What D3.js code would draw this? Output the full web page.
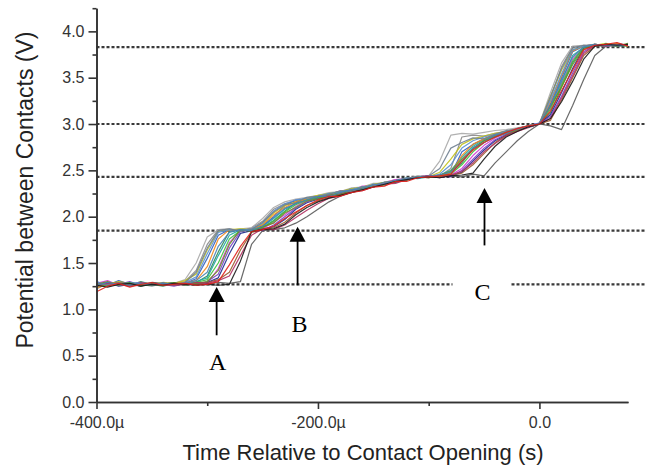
<!DOCTYPE html>
<html>
<head>
<meta charset="utf-8">
<script src="https://cdn.jsdelivr.net/npm/d3@7"></script>
<style>
body { margin: 0; background: #fff; }
</style>
</head>
<body>
<svg class="plotid" width="651" height="467"></svg>
<script>
// time axis, microseconds relative to contact opening
var times = [-400, -390, -380, -370, -360, -350, -340, -330, -320, -310,
             -300, -290, -280, -270, -260, -250, -240, -230, -220, -210,
             -200, -190, -180, -170, -160, -150, -140, -130, -120, -110,
             -100, -90, -80, -70, -60, -50, -40, -30, -20, -10,
             0, 10, 20, 30, 40, 50, 60, 70, 80];

// potential (V), one array per recorded opening
var run01 = [1.22, 1.28, 1.26, 1.29, 1.27, 1.25, 1.28, 1.27, 1.30, 1.42,
             1.70, 1.86, 1.87, 1.85, 1.88, 1.95, 2.08, 2.14, 2.17, 2.20,
             2.21, 2.25, 2.24, 2.28, 2.30, 2.32, 2.36, 2.37, 2.41, 2.42,
             2.43, 2.44, 2.52, 2.86, 2.88, 2.87, 2.90, 2.92, 2.94, 2.97,
             3.00, 3.28, 3.62, 3.83, 3.85, 3.84, 3.86, 3.85, 3.84];
var run02 = [1.27, 1.28, 1.26, 1.28, 1.27, 1.29, 1.27, 1.28, 1.32, 1.50,
             1.78, 1.86, 1.85, 1.87, 1.88, 1.98, 2.10, 2.16, 2.19, 2.21,
             2.23, 2.26, 2.27, 2.31, 2.32, 2.36, 2.36, 2.40, 2.41, 2.44,
             2.44, 2.60, 2.88, 2.90, 2.89, 2.91, 2.93, 2.94, 2.96, 2.98,
             3.00, 3.34, 3.66, 3.84, 3.85, 3.86, 3.84, 3.85, 3.86];
var run03 = [1.27, 1.26, 1.28, 1.27, 1.26, 1.29, 1.28, 1.26, 1.27, 1.28,
             1.27, 1.29, 1.28, 1.30, 1.70, 1.85, 1.86, 1.88, 1.93, 2.00,
             2.08, 2.16, 2.22, 2.26, 2.30, 2.33, 2.36, 2.38, 2.41, 2.43,
             2.44, 2.43, 2.44, 2.43, 2.46, 2.44, 2.58, 2.70, 2.82, 2.92,
             3.00, 2.98, 2.94, 3.20, 3.48, 3.74, 3.84, 3.86, 3.85];
var run04 = [1.30, 1.26, 1.31, 1.27, 1.25, 1.28, 1.27, 1.26, 1.28, 1.33,
             1.55, 1.80, 1.86, 1.85, 1.87, 1.90, 2.00, 2.12, 2.18, 2.19,
             2.22, 2.24, 2.26, 2.30, 2.30, 2.34, 2.37, 2.37, 2.41, 2.43,
             2.42, 2.44, 2.45, 2.70, 2.78, 2.84, 2.88, 2.91, 2.95, 2.98,
             3.01, 3.22, 3.50, 3.78, 3.84, 3.86, 3.85, 3.87, 3.85];
var run05 = [1.24, 1.29, 1.27, 1.26, 1.30, 1.27, 1.25, 1.28, 1.27, 1.29,
             1.36, 1.62, 1.84, 1.86, 1.85, 1.88, 1.96, 2.06, 2.15, 2.18,
             2.20, 2.24, 2.25, 2.28, 2.30, 2.32, 2.35, 2.37, 2.40, 2.42,
             2.43, 2.43, 2.48, 2.58, 2.74, 2.82, 2.87, 2.90, 2.94, 2.97,
             3.00, 3.12, 3.40, 3.66, 3.83, 3.85, 3.84, 3.86, 3.85];
var run06 = [1.28, 1.31, 1.26, 1.27, 1.29, 1.26, 1.28, 1.27, 1.29, 1.27,
             1.28, 1.44, 1.72, 1.85, 1.86, 1.87, 1.94, 2.02, 2.11, 2.18,
             2.22, 2.23, 2.28, 2.28, 2.33, 2.33, 2.37, 2.40, 2.41, 2.43,
             2.44, 2.42, 2.45, 2.52, 2.66, 2.77, 2.85, 2.90, 2.95, 2.98,
             3.01, 3.18, 3.44, 3.70, 3.82, 3.86, 3.84, 3.85, 3.86];
var run07 = [1.25, 1.27, 1.30, 1.28, 1.26, 1.27, 1.29, 1.28, 1.31, 1.38,
             1.64, 1.84, 1.86, 1.87, 1.86, 1.92, 2.04, 2.12, 2.16, 2.20,
             2.23, 2.25, 2.27, 2.30, 2.32, 2.35, 2.37, 2.39, 2.41, 2.43,
             2.43, 2.48, 2.62, 2.78, 2.84, 2.87, 2.90, 2.92, 2.95, 2.98,
             3.00, 3.30, 3.58, 3.80, 3.84, 3.85, 3.87, 3.85, 3.86];
var run08 = [1.27, 1.29, 1.25, 1.27, 1.28, 1.26, 1.27, 1.29, 1.26, 1.28,
             1.29, 1.34, 1.60, 1.82, 1.85, 1.87, 1.89, 1.97, 2.08, 2.15,
             2.19, 2.22, 2.25, 2.28, 2.31, 2.33, 2.36, 2.39, 2.41, 2.42,
             2.44, 2.43, 2.44, 2.48, 2.60, 2.72, 2.82, 2.88, 2.93, 2.97,
             3.00, 3.10, 3.34, 3.60, 3.82, 3.85, 3.86, 3.84, 3.85];
var run09 = [1.29, 1.26, 1.28, 1.25, 1.27, 1.28, 1.26, 1.29, 1.27, 1.30,
             1.34, 1.58, 1.80, 1.86, 1.85, 1.89, 1.98, 2.08, 2.14, 2.19,
             2.21, 2.25, 2.25, 2.29, 2.32, 2.33, 2.37, 2.38, 2.42, 2.41,
             2.43, 2.45, 2.50, 2.64, 2.76, 2.83, 2.88, 2.91, 2.94, 2.98,
             3.00, 3.20, 3.46, 3.74, 3.83, 3.85, 3.84, 3.86, 3.85];
var run10 = [1.26, 1.28, 1.27, 1.30, 1.26, 1.28, 1.27, 1.25, 1.28, 1.27,
             1.30, 1.38, 1.66, 1.84, 1.86, 1.85, 1.91, 2.00, 2.09, 2.16,
             2.20, 2.23, 2.26, 2.28, 2.31, 2.34, 2.36, 2.39, 2.40, 2.42,
             2.43, 2.44, 2.43, 2.50, 2.62, 2.74, 2.83, 2.89, 2.93, 2.97,
             3.00, 3.08, 3.30, 3.55, 3.78, 3.85, 3.86, 3.85, 3.86];
var run11 = [1.23, 1.27, 1.29, 1.26, 1.28, 1.27, 1.26, 1.28, 1.29, 1.31,
             1.46, 1.76, 1.86, 1.85, 1.87, 1.91, 2.02, 2.10, 2.16, 2.19,
             2.22, 2.24, 2.26, 2.29, 2.31, 2.33, 2.36, 2.38, 2.40, 2.43,
             2.42, 2.44, 2.47, 2.66, 2.78, 2.84, 2.89, 2.92, 2.95, 2.98,
             3.00, 3.24, 3.52, 3.79, 3.84, 3.86, 3.85, 3.87, 3.84];
var run12 = [1.28, 1.25, 1.27, 1.29, 1.27, 1.26, 1.28, 1.27, 1.27, 1.29,
             1.32, 1.50, 1.76, 1.85, 1.86, 1.88, 1.95, 2.05, 2.13, 2.18,
             2.21, 2.22, 2.27, 2.27, 2.32, 2.33, 2.35, 2.39, 2.40, 2.43,
             2.43, 2.44, 2.46, 2.56, 2.70, 2.80, 2.86, 2.90, 2.94, 2.97,
             3.00, 3.16, 3.42, 3.68, 3.83, 3.85, 3.86, 3.85, 3.84];
var run13 = [1.26, 1.27, 1.29, 1.27, 1.26, 1.28, 1.27, 1.26, 1.28, 1.27,
             1.29, 1.32, 1.40, 1.64, 1.83, 1.86, 1.88, 1.94, 2.04, 2.12,
             2.17, 2.21, 2.24, 2.27, 2.30, 2.33, 2.35, 2.38, 2.40, 2.42,
             2.43, 2.43, 2.45, 2.47, 2.56, 2.68, 2.80, 2.88, 2.93, 2.97,
             3.00, 3.04, 3.26, 3.50, 3.74, 3.84, 3.86, 3.85, 3.86];
var run14 = [1.29, 1.27, 1.26, 1.28, 1.29, 1.27, 1.28, 1.26, 1.29, 1.35,
             1.60, 1.83, 1.86, 1.85, 1.87, 1.93, 2.06, 2.14, 2.18, 2.20,
             2.22, 2.25, 2.27, 2.29, 2.32, 2.34, 2.36, 2.39, 2.41, 2.43,
             2.43, 2.46, 2.56, 2.74, 2.82, 2.86, 2.89, 2.92, 2.95, 2.98,
             3.01, 3.26, 3.54, 3.80, 3.84, 3.86, 3.85, 3.84, 3.86];
var run15 = [1.27, 1.30, 1.26, 1.28, 1.25, 1.28, 1.27, 1.29, 1.26, 1.28,
             1.30, 1.42, 1.70, 1.86, 1.84, 1.89, 1.93, 2.04, 2.10, 2.17,
             2.19, 2.24, 2.23, 2.28, 2.30, 2.33, 2.34, 2.38, 2.39, 2.43,
             2.42, 2.45, 2.49, 2.62, 2.73, 2.82, 2.86, 2.91, 2.93, 2.98,
             3.00, 3.19, 3.40, 3.64, 3.81, 3.86, 3.85, 3.84, 3.87];
var run16 = [1.25, 1.28, 1.27, 1.25, 1.29, 1.27, 1.28, 1.26, 1.27, 1.29,
             1.28, 1.31, 1.36, 1.58, 1.80, 1.87, 1.86, 1.91, 1.99, 2.07,
             2.14, 2.20, 2.22, 2.27, 2.28, 2.32, 2.35, 2.36, 2.40, 2.42,
             2.44, 2.42, 2.45, 2.49, 2.58, 2.70, 2.79, 2.87, 2.92, 2.96,
             3.00, 3.06, 3.28, 3.52, 3.76, 3.85, 3.84, 3.86, 3.85];
var run17 = [1.28, 1.26, 1.29, 1.27, 1.28, 1.26, 1.29, 1.27, 1.29, 1.40,
             1.66, 1.85, 1.87, 1.84, 1.86, 1.94, 2.05, 2.13, 2.15, 2.21,
             2.22, 2.24, 2.28, 2.27, 2.32, 2.33, 2.37, 2.38, 2.42, 2.42,
             2.44, 2.52, 2.74, 2.80, 2.85, 2.84, 2.89, 2.93, 2.94, 2.98,
             3.00, 3.30, 3.60, 3.82, 3.85, 3.84, 3.86, 3.85, 3.85];
var run18 = [1.26, 1.29, 1.27, 1.26, 1.28, 1.27, 1.28, 1.27, 1.28, 1.31,
             1.40, 1.68, 1.83, 1.86, 1.85, 1.90, 1.99, 2.09, 2.14, 2.18,
             2.22, 2.22, 2.26, 2.29, 2.30, 2.35, 2.35, 2.39, 2.40, 2.43,
             2.43, 2.45, 2.48, 2.60, 2.74, 2.80, 2.88, 2.90, 2.95, 2.97,
             3.00, 3.20, 3.48, 3.72, 3.83, 3.86, 3.85, 3.85, 3.86];
var run19 = [1.26, 1.24, 1.27, 1.28, 1.25, 1.27, 1.26, 1.28, 1.27, 1.26,
             1.27, 1.26, 1.27, 1.52, 1.84, 1.86, 1.87, 1.92, 2.02, 2.10,
             2.16, 2.20, 2.23, 2.26, 2.29, 2.32, 2.35, 2.38, 2.40, 2.42,
             2.43, 2.42, 2.44, 2.45, 2.47, 2.62, 2.76, 2.86, 2.92, 2.97,
             3.00, 3.06, 3.24, 3.46, 3.70, 3.84, 3.86, 3.85, 3.86];
var run20 = [1.19, 1.25, 1.28, 1.24, 1.27, 1.29, 1.26, 1.27, 1.28, 1.26,
             1.27, 1.30, 1.48, 1.68, 1.84, 1.86, 1.90, 1.98, 2.05, 2.12,
             2.18, 2.22, 2.22, 2.26, 2.28, 2.32, 2.33, 2.38, 2.38, 2.42,
             2.43, 2.44, 2.46, 2.60, 2.72, 2.80, 2.86, 2.91, 2.95, 2.98,
             3.00, 3.14, 3.36, 3.58, 3.80, 3.85, 3.86, 3.88, 3.84];

var runs = [run01, run02, run03, run04, run05, run06, run07, run08, run09, run10,
            run11, run12, run13, run14, run15, run16, run17, run18, run19, run20];
var runColors = ["#8a8a8a", "#a9a9a9", "#5a5a5a", "#2f5fc0", "#2e8b57", "#d23cd2",
                 "#c2c21a", "#1c2b8c", "#1fa3a3", "#7a3fc4", "#f08a1c", "#3cbf3c",
                 "#9a5a2a", "#5a8fd0", "#6b8e23", "#b03060", "#708090", "#4682b4",
                 "#1a1a1a", "#e0201c"];

// dotted reference levels (V)
var levels = [3.83, 3.0, 2.43, 1.85, 1.27];

var yTicks = [0, 0.5, 1.0, 1.5, 2.0, 2.5, 3.0, 3.5, 4.0];
var yMinor = [0.25, 0.75, 1.25, 1.75, 2.25, 2.75, 3.25, 3.75, 4.25];
var xTicks = [-400, -200, 0];
var xMinor = [-300, -100];

// arrow annotations, in data units
var notes = ["A", "B", "C"];
var noteTime = [-291.5, -218.4, -49.6];
var noteTip = [1.24, 1.89, 2.31];
var noteTail = [0.72, 1.26, 1.69];
var noteTextTime = [-290.6, -216.6, -51.4];
var noteTextV = [0.345, 0.755, 1.10];

var svg = d3.select(".plotid");

var x = d3.scaleLinear().domain([-400, 80]).range([96.5, 628]);
var y = d3.scaleLinear().domain([0, 4.25]).range([402, 8.2]);

// reference levels
svg.append("g").selectAll("line")
  .data(levels)
  .enter().append("line")
    .attr("x1", x(-400))
    .attr("x2", 645)
    .attr("y1", function(d) { return y(d); })
    .attr("y2", function(d) { return y(d); })
    .attr("stroke", "#3a3a3a")
    .attr("stroke-width", 2.2)
    .attr("stroke-dasharray", "3,2");

var line = d3.line()
    .x(function(d, i) { return x(times[i]); })
    .y(function(d) { return y(d); });

svg.append("g").selectAll("path")
  .data(runs)
  .enter().append("path")
    .attr("fill", "none")
    .attr("stroke", function(d, i) { return runColors[i]; })
    .attr("stroke-width", 1.2)
    .attr("stroke-opacity", 0.9)
    .attr("stroke-linejoin", "round")
    .attr("d", line);

// axes
var fmtX = function(d) { return d === 0 ? "0.0" : d.toFixed(1) + "\u00b5"; };

svg.append("g")
    .attr("transform", "translate(0," + y(0) + ")")
    .call(d3.axisBottom(x).tickValues(xTicks).tickFormat(fmtX).tickSize(7).tickSizeOuter(0).tickPadding(8));
svg.append("g")
    .attr("transform", "translate(0," + y(0) + ")")
    .call(d3.axisBottom(x).tickValues(xMinor).tickFormat("").tickSize(4).tickSizeOuter(0));

svg.append("g")
    .attr("transform", "translate(" + x(-400) + ",0)")
    .call(d3.axisLeft(y).tickValues(yTicks).tickFormat(d3.format(".1f")).tickSize(8).tickSizeOuter(0).tickPadding(4));
svg.append("g")
    .attr("transform", "translate(" + x(-400) + ",0)")
    .call(d3.axisLeft(y).tickValues(yMinor).tickFormat("").tickSize(4).tickSizeOuter(0));

svg.selectAll(".domain, .tick line")
    .attr("stroke", "#333")
    .attr("stroke-width", 1.6);
svg.selectAll(".tick text")
    .attr("fill", "#333")
    .style("font-family", "Arial, 'Liberation Sans', sans-serif")
    .style("font-size", "16px");

svg.append("text")
    .attr("x", 363)
    .attr("y", 460)
    .attr("text-anchor", "middle")
    .attr("fill", "#222")
    .style("font-family", "Arial, 'Liberation Sans', sans-serif")
    .style("font-size", "22px")
    .text("Time Relative to Contact Opening (s)");

svg.append("text")
    .attr("transform", "translate(33,190) rotate(-90)")
    .attr("text-anchor", "middle")
    .attr("fill", "#222")
    .style("font-family", "Arial, 'Liberation Sans', sans-serif")
    .style("font-size", "23px")
    .text("Potential between Contacts (V)");

// annotations
var ann = svg.append("g");
notes.forEach(function(n, i) {
  var ax = x(noteTime[i]);
  var tipY = y(noteTip[i]);
  ann.append("line")
      .attr("x1", ax).attr("x2", ax)
      .attr("y1", y(noteTail[i])).attr("y2", tipY + 14)
      .attr("stroke", "#000")
      .attr("stroke-width", 1.8);
  ann.append("path")
      .attr("d", "M" + ax + "," + tipY + "L" + (ax - 8) + "," + (tipY + 15) + "L" + (ax + 8) + "," + (tipY + 15) + "Z")
      .attr("fill", "#000");
  var tx = x(noteTextTime[i]), ty = y(noteTextV[i]);
  if (n === "C") {
    ann.append("rect")
        .attr("x", tx - 30).attr("y", ty - 22)
        .attr("width", 58).attr("height", 30)
        .attr("fill", "#fff");
  }
  ann.append("text")
      .attr("x", tx)
      .attr("y", ty)
      .attr("text-anchor", "middle")
      .attr("fill", "#000")
      .style("font-family", "'Times New Roman', 'Liberation Serif', serif")
      .style("font-size", "24px")
      .text(n);
});
</script>
</body>
</html>
